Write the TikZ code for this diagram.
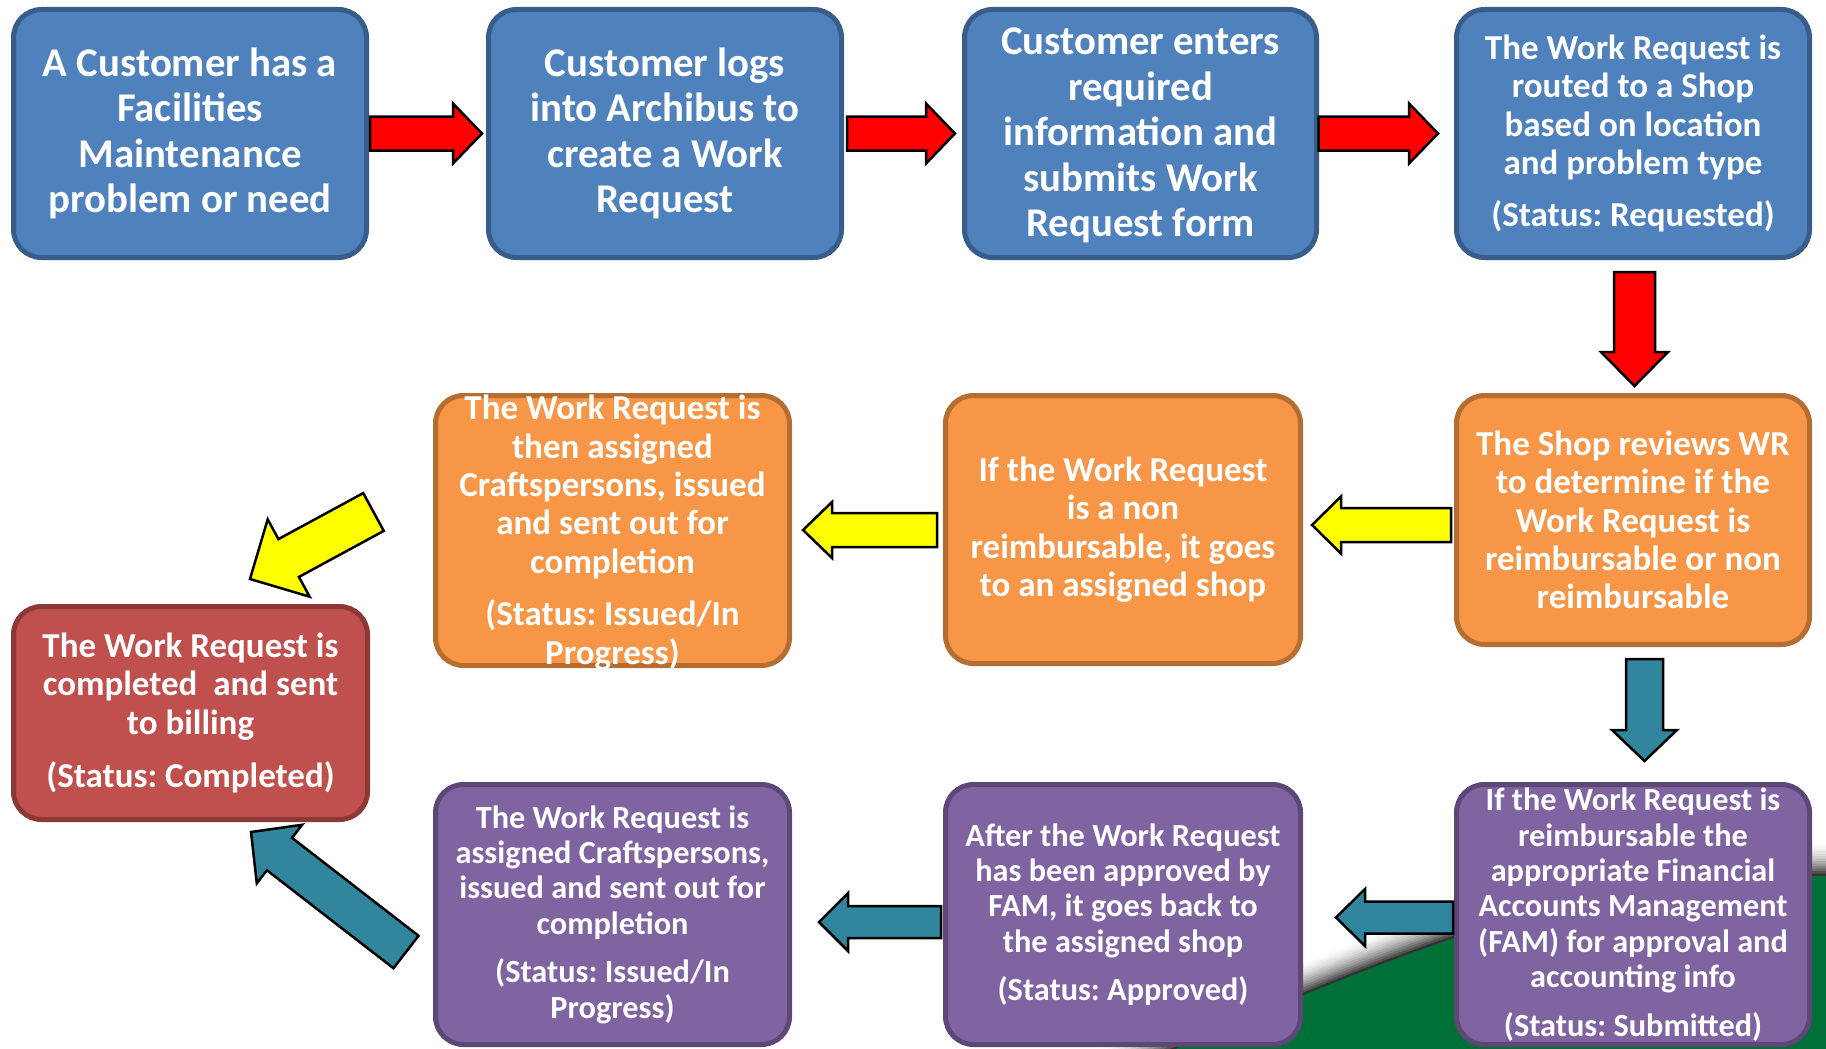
\documentclass[tikz,border=0pt]{standalone}
\usepackage{fontspec}
\setmainfont{Carlito}
\usetikzlibrary{calc}
\frenchspacing
\definecolor{bfill}{HTML}{4F81BD}\definecolor{bline}{HTML}{385D8A}
\definecolor{ofill}{HTML}{F79646}\definecolor{oline}{HTML}{B66D31}
\definecolor{rfill}{HTML}{C0504D}\definecolor{rline}{HTML}{8C3836}
\definecolor{pfill}{HTML}{8064A2}\definecolor{pline}{HTML}{5C4776}
\definecolor{arrteal}{HTML}{31859C}
\definecolor{arrred}{HTML}{FF0000}
\definecolor{arryel}{HTML}{FFFF00}
\definecolor{slidegreen}{HTML}{007038}
\newcommand{\txtbig}{\fontsize{40.8}{45.4}\selectfont\bfseries}
\newcommand{\txtmid}{\fontsize{35}{38.4}\selectfont\bfseries}
\newcommand{\txtsmall}{\fontsize{32.3}{35.4}\selectfont\bfseries}
% #1 fill, #2 start, #3 tip, #4 shaft half width, #5 head half width, #6 head length
\newcommand{\blockarrow}[6]{%
  \coordinate (ba-c) at ($(#3)!#6pt!(#2)$);
  \draw[barrow, fill=#1] ($(#2)!#4pt!90:(#3)$) -- ($(ba-c)!#4pt!90:(#3)$) -- ($(ba-c)!#5pt!90:(#3)$) -- (#3)
    -- ($(ba-c)!#5pt!-90:(#3)$) -- ($(ba-c)!#4pt!-90:(#3)$) -- ($(#2)!#4pt!-90:(#3)$) -- cycle;}
\begin{document}
\begin{tikzpicture}[x=1pt,y=-1pt,
  box/.style={rectangle, rounded corners=28pt, line width=5pt, outer sep=0pt, inner sep=0pt},
  bluebox/.style={box, fill=bfill, draw=bline},
  orangebox/.style={box, fill=ofill, draw=oline},
  redbox/.style={box, fill=rfill, draw=rline},
  purplebox/.style={box, fill=pfill, draw=pline},
  txt/.style={text=white, align=center, inner sep=0pt},
  barrow/.style={draw=black, line width=2.5pt, line join=miter}]
\useasboundingbox (0,0) rectangle (1826,1049);
\fill[white] (0,0) rectangle (1826,1049);
% background slide graphic
\begin{scope}
\clip (0,0) rectangle (1826,1049);
\foreach \i in {14,13,...,1}{
  \pgfmathtruncatemacro\g{80*((15-\i)/14)^2}
  \pgfmathsetmacro\s{2.5*\i}
  \fill[black!\g, yshift=\s pt] (1100,1082) .. controls (1480,915) and (1600,878) .. (1826,876) -- (1826,1100) -- (1100,1100) -- cycle;
}
\fill[slidegreen] (1100,1082) .. controls (1480,915) and (1600,878) .. (1826,876) -- (1826,1100) -- (1100,1100) -- cycle;
\end{scope}
% row 1
\node[bluebox, minimum width=353pt, minimum height=248pt] (b1) at (190,133.5) {};
\node[bluebox, minimum width=353pt, minimum height=248pt] (b2) at (665,133.5) {};
\node[bluebox, minimum width=352pt, minimum height=248pt] (b3) at (1140.5,133.5) {};
\node[bluebox, minimum width=353pt, minimum height=248pt] (b4) at (1633,133.5) {};
% row 2
\node[orangebox, minimum width=353pt, minimum height=249pt] (o1) at (1633,520) {};
\node[orangebox, minimum width=355pt, minimum height=268pt] (o2) at (1123,529.5) {};
\node[orangebox, minimum width=354pt, minimum height=270pt] (o3) at (612.5,530.5) {};
\node[redbox, minimum width=354pt, minimum height=213pt] (r1) at (190.5,713) {};
% row 3
\node[purplebox, minimum width=353pt, minimum height=260pt] (p1) at (1633,914.5) {};
\node[purplebox, minimum width=355pt, minimum height=260pt] (p2) at (1123,914.5) {};
\node[purplebox, minimum width=354pt, minimum height=260pt] (p3) at (612.5,914.5) {};
% texts
\node[txt, font=\txtbig] (tb1) at (b1) {A Customer has a\\Facilities\\Maintenance\\problem or need};
\node[txt, font=\txtbig] (tb2) at (b2) {Customer logs\\into Archibus to\\create a Work\\Request};
\node[txt, font=\txtbig] (tb3) at ($(b3)+(0,2)$) {Customer enters\\required\\information and\\submits Work\\Request form};
\node[txt, font=\txtmid] (tb4) at (b4) {The Work Request is\\routed to a Shop\\based on location\\and problem type\\[14pt](Status: Requested)};
\node[txt, font=\txtmid] (to1) at (o1) {The Shop reviews WR\\to determine if the\\Work Request is\\reimbursable or non\\reimbursable};
\node[txt, font=\txtmid] (to2) at (o2) {If the Work Request\\is a non\\reimbursable, it goes\\to an assigned shop};
\node[txt, font=\txtmid] (to3) at ($(o3)+(0,2)$) {The Work Request is\\then assigned\\Craftspersons, issued\\and sent out for\\completion\\[14pt](Status: Issued/In\\Progress)};
\node[txt, font=\txtmid] (tr1) at (r1) {The Work Request is\\completed~ and sent\\to billing\\[15pt](Status: Completed)};
\node[txt, font=\txtsmall] (tp1) at (p1) {If the Work Request is\\reimbursable the\\appropriate Financial\\Accounts Management\\(FAM) for approval and\\accounting info\\[13pt](Status: Submitted)};
\node[txt, font=\txtsmall] (tp2) at (p2) {After the Work Request\\has been approved by\\FAM, it goes back to\\the assigned shop\\[13pt](Status: Approved)};
\node[txt, font=\txtsmall] (tp3) at (p3) {The Work Request is\\assigned Craftspersons,\\issued and sent out for\\completion\\[13pt](Status: Issued/In\\Progress)};
% arrows
\coordinate (a1s) at ($(b1.east)+(3.5,0)$); \coordinate (a1t) at ($(b2.west)+(-6.5,0)$);
\blockarrow{arrred}{a1s}{a1t}{17}{30}{29}
\coordinate (a2s) at ($(b2.east)+(5.5,0)$); \coordinate (a2t) at ($(b3.west)+(-9.5,0)$);
\blockarrow{arrred}{a2s}{a2t}{17}{30}{29}
\coordinate (a3s) at ($(b3.east)+(2,0)$); \coordinate (a3t) at ($(b4.west)+(-18.5,0)$);
\blockarrow{arrred}{a3s}{a3t}{17}{30}{29}
\coordinate (a4s) at ($(b4.south)+(1.5,14.5)$); \coordinate (a4t) at ($(o1.north)+(1.5,-9.5)$);
\blockarrow{arrred}{a4s}{a4t}{20.5}{33.5}{34}
\coordinate (a5s) at ($(o1.west)+(-5.5,5)$); \coordinate (a5t) at ($(o2.east)+(11.5,-4.5)$);
\blockarrow{arryel}{a5s}{a5t}{17}{28.5}{29}
\coordinate (a6s) at ($(o2.west)+(-8.5,0.5)$); \coordinate (a6t) at ($(o3.east)+(13.5,-0.5)$);
\blockarrow{arryel}{a6s}{a6t}{17}{28}{29}
\coordinate (a7s) at (373.5,512); \coordinate (a7t) at (250,579);
\blockarrow{arryel}{a7s}{a7t}{21.5}{44}{44}
\coordinate (a8s) at ($(o1.south)+(11.5,14.5)$); \coordinate (a8t) at ($(p1.north)+(11.5,-23.5)$);
\blockarrow{arrteal}{a8s}{a8t}{18.5}{32.5}{31}
\coordinate (a9s) at ($(p1.west)+(-3.5,3)$); \coordinate (a9t) at ($(p2.east)+(35.5,3)$);
\blockarrow{arrteal}{a9s}{a9t}{16}{28.5}{29}
\coordinate (a10s) at ($(p2.west)+(-4.5,7.5)$); \coordinate (a10t) at ($(p3.east)+(29.5,7.5)$);
\blockarrow{arrteal}{a10s}{a10t}{16}{29}{29}
\coordinate (a11s) at (406,952); \coordinate (a11t) at (251,832);
\blockarrow{arrteal}{a11s}{a11t}{20.5}{37}{36}
\end{tikzpicture}
\end{document}
